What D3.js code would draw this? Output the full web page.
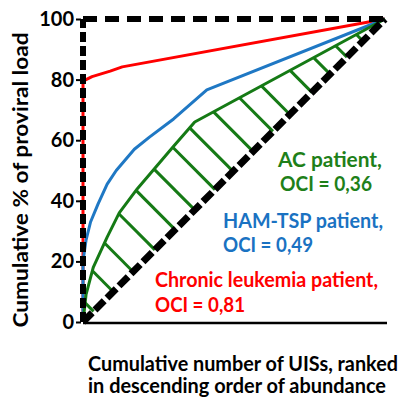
<!DOCTYPE html>
<html><head><meta charset="utf-8">
<script src="https://cdn.jsdelivr.net/npm/d3@7"></script>
<style>body{margin:0;background:#fff}svg{display:block}text{font-family:Lato,"Open Sans",sans-serif;font-weight:bold}</style>
</head><body><svg id="c" width="409" height="400"></svg>
<script>
// ---- data ----
const yTicks = [0, 20, 40, 60, 80, 100];
const redX = [0, 0, 3, 9, 13, 100];
const redY = [0, 79.5, 81, 82.8, 84.2, 100];
const blueX = [0, 0, 1, 2.5, 5, 8, 11, 17, 22, 30, 41, 100];
const blueY = [0, 20, 27, 33, 39, 45.5, 50, 57, 61, 67, 76.6, 100];
const greenX = [0, 1, 3.4, 8, 12, 18, 24, 30, 37, 100];
const greenY = [0, 9, 18, 28, 36, 44, 51, 58, 66, 100];
const hatchFeet = [3.5, 10, 16.6, 23.8, 30.5, 37, 43.7, 49.7, 56.3, 62.9, 68.5, 75.8, 81.8, 87.4, 92.7];
const labels = [
  {text: "AC patient,", color: "green"},
  {text: "OCI = 0,36", color: "green"},
  {text: "HAM-TSP patient,", color: "blue"},
  {text: "OCI = 0,49", color: "blue"},
  {text: "Chronic leukemia patient,", color: "red"},
  {text: "OCI = 0,81", color: "red"}
];
const yTitle = "Cumulative % of proviral load";
const xTitle = ["Cumulative number of UISs, ranked", "in descending order of abundance"];

// ---- layout ----
const colors = {red: "#ff0000", blue: "#1f78c4", green: "#157a15"};
const textColors = {red: "#ff0000", blue: "#1a72c2", green: "#1e8019"};
const svg = d3.select("#c");
const x = d3.scaleLinear().domain([0, 100]).range([83, 385]);
const y = d3.scaleLinear().domain([0, 100]).range([322, 19]);
const line = d3.line().x(d => x(d[0])).y(d => y(d[1]));
const zip = (a, b) => a.map((v, i) => [v, b[i]]);
const green = zip(greenX, greenY);

// hatch lines: from diagonal foot perpendicular to curve
function hitCurve(t) {
  for (let i = 0; i < green.length - 1; i++) {
    const [x1, y1] = green[i], [x2, y2] = green[i + 1];
    const den = (x2 - x1) + (y2 - y1);
    if (den === 0) continue;
    const u = (2 * t - x1 - y1) / den;
    if (u >= 0 && u <= 1) return [x1 + u * (x2 - x1), y1 + u * (y2 - y1)];
  }
  return [t, t];
}
svg.append("g").selectAll("line").data(hatchFeet).join("line")
  .attr("x1", d => x(d)).attr("y1", d => y(d))
  .attr("x2", d => x(hitCurve(d)[0])).attr("y2", d => y(hitCurve(d)[1]))
  .attr("stroke", colors.green).attr("stroke-width", 3);

// curves
[[zip(redX, redY), colors.red], [zip(blueX, blueY), colors.blue], [green, colors.green]].forEach(([d, c]) => {
  svg.append("path").datum(d).attr("d", line).attr("fill", "none")
    .attr("stroke", c).attr("stroke-width", 3).attr("stroke-linejoin", "round");
});

// bottom axis (solid)
svg.append("line").attr("x1", x(0)).attr("x2", x(100) + 2).attr("y1", y(0) + 1).attr("y2", y(0) + 1)
  .attr("stroke", "#000").attr("stroke-width", 2.5);
// diagonal dashed
svg.append("line").attr("x1", x(0)).attr("y1", y(0)).attr("x2", x(100)).attr("y2", y(100))
  .attr("stroke", "#000").attr("stroke-width", 7).attr("stroke-dasharray", "13,4");
// top dashed
svg.append("line").attr("x1", x(0)).attr("y1", y(100)).attr("x2", x(100) + 2).attr("y2", y(100))
  .attr("stroke", "#000").attr("stroke-width", 6).attr("stroke-dasharray", "14,8");
// left dashed axis
svg.append("line").attr("x1", x(0)).attr("y1", y(0)).attr("x2", x(0)).attr("y2", y(100))
  .attr("stroke", "#000").attr("stroke-width", 6).attr("stroke-dasharray", "10,4");

// y axis ticks
const ya = svg.append("g").attr("transform", `translate(${x(0) - 2},0)`)
  .call(d3.axisLeft(y).tickValues(yTicks).tickSize(5).tickPadding(2).tickFormat(d3.format("d")));
ya.select(".domain").remove();
ya.selectAll(".tick line").attr("stroke", "#000").attr("stroke-width", 2);
ya.selectAll(".tick text").attr("font-size", 20).attr("fill", "#000")
  .style("font-family", "Lato").style("font-weight", "bold");

// annotations
const pos = [[278, 167, 104], [280, 191, 92], [223, 228, 160], [223, 252, 90], [155, 287, 223], [155, 312, 90]];
svg.append("g").selectAll("text").data(labels).join("text")
  .attr("x", (d, i) => pos[i][0]).attr("y", (d, i) => pos[i][1])
  .attr("textLength", (d, i) => pos[i][2]).attr("lengthAdjust", "spacingAndGlyphs")
  .attr("font-size", 21).attr("fill", d => textColors[d.color]).text(d => d.text);

// axis titles
svg.append("text").attr("transform", "translate(28,180) rotate(-90)").attr("text-anchor", "middle")
  .attr("font-size", 21).attr("textLength", 295).attr("lengthAdjust", "spacingAndGlyphs").text(yTitle);
svg.append("g").selectAll("text").data(xTitle).join("text")
  .attr("x", 88).attr("y", (d, i) => 371 + i * 22).attr("font-size", 20)
  .attr("textLength", (d, i) => [310, 298][i]).attr("lengthAdjust", "spacingAndGlyphs").text(d => d);
</script></body></html>
